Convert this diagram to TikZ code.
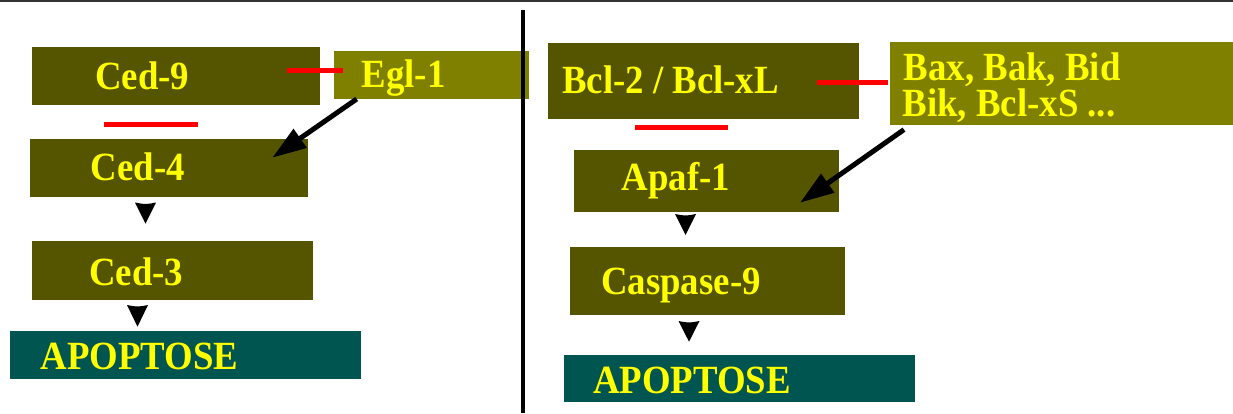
\documentclass[tikz,border=0pt]{standalone}
\usepackage{fontspec}
\usepackage{graphicx}
\setmainfont{Liberation Serif}
\usetikzlibrary{arrows.meta}
\definecolor{boxdark}{RGB}{85,85,0}
\definecolor{boxlight}{RGB}{128,128,0}
\definecolor{boxteal}{RGB}{0,85,80}
\definecolor{txtyellow}{RGB}{255,255,0}
\definecolor{inhred}{RGB}{255,0,0}
\newcommand\sqz[1]{\scalebox{0.92}[1]{#1}}
\begin{document}
\begin{tikzpicture}[x=1pt,y=-1pt,
  box/.style={fill=boxdark, draw=none, inner sep=0pt, outer sep=0pt, anchor=north west},
  lbl/.style={text=txtyellow, font=\bfseries\fontsize{40}{36}\selectfont, inner sep=0pt, anchor=base west},
  inhib/.style={draw=inhred, line width=5pt},
  act/.style={draw=black, line width=5pt, -{Triangle[length=34pt,width=22pt]}},
  tri/.style={fill=black}]
\useasboundingbox (0,0) rectangle (1233,413);
\fill[white] (0,0) rectangle (1233,413);
% top rule
\draw[line width=1.6pt, black!80] (0,0.8) -- (1233,0.8);

% ---- left panel boxes
\node[box, minimum width=288pt, minimum height=58pt] (ced9) at (32,47) {};
\node[box, fill=boxlight, minimum width=195pt, minimum height=48pt] (egl1) at (334,51) {};
\node[box, minimum width=278pt, minimum height=58pt] (ced4) at (30,139) {};
\node[box, minimum width=281pt, minimum height=59pt] (ced3) at (32,241) {};
\node[box, fill=boxteal, minimum width=351pt, minimum height=48pt] (apoL) at (10,331) {};

% ---- right panel boxes
\node[box, minimum width=311pt, minimum height=76pt] (bcl) at (548,43) {};
\node[box, fill=boxlight, minimum width=343pt, minimum height=83pt] (bax) at (890,42) {};
\node[box, minimum width=265pt, minimum height=62pt] (apaf) at (574,150) {};
\node[box, minimum width=275pt, minimum height=68pt] (casp) at (570,247) {};
\node[box, fill=boxteal, minimum width=351pt, minimum height=47pt] (apoR) at (564,355) {};

% divider
\draw[line width=3.6pt, black] (523,10) -- (523,413);

% ---- labels
\node[lbl] (ced9t) at (95,89.3) {\sqz{Ced-9}};
\node[lbl] (egl1t) at (361.5,87) {\sqz{Egl-1}};
\node[lbl] (ced4t) at (90.5,180) {\sqz{Ced-4}};
\node[lbl] (ced3t) at (89,285) {\sqz{Ced-3}};
\node[lbl] (apoLt) at (40.5,369) {\sqz{APOPTOSE}};
\node[lbl] (bclt) at (562,93.3) {\sqz{Bcl-2 / Bcl-xL}};
\node[lbl] (baxt1) at (903.5,80) {\sqz{Bax, Bak, Bid}};
\node[lbl] (baxt2) at (902.5,116) {\sqz{Bik, Bcl-xS ...}};
\node[lbl] (apaft) at (621.5,190) {\sqz{Apaf-1}};
\node[lbl] (caspt) at (601,294.3) {\sqz{Caspase-9}};
\node[lbl] (apoRt) at (593,393.3) {\sqz{APOPTOSE}};

% ---- inhibition bars
\draw[inhib] ([shift={(-33,-6)}]ced9.east) -- ([shift={(9,-5)}]egl1.west);
\draw[inhib] (104,124.3) -- (198,124.3);
\draw[inhib] ([shift={(-42,1.7)}]bcl.east) -- ([shift={(-2.3,-0.8)}]bax.west);
\draw[inhib] (635,127.3) -- (727.7,127.3);

% ---- activation arrows
\draw[act] ([xshift=22.7pt]egl1.south west) -- ([shift={(-35.7,18.7)}]ced4.north east);
\draw[act] ([shift={(14,4.6)}]bax.south west) -- ([shift={(-39,52.7)}]apaf.north east);

% ---- small down triangles
\fill[tri] (135,202.5) .. controls (145.5,204.5) .. (156,202.5) -- (145.5,223.5) -- cycle;
\fill[tri] (127,305) .. controls (137.5,307) .. (148,305) -- (137.5,326.7) -- cycle;
\fill[tri] (675,214) .. controls (685.5,216) .. (696,214) -- (685.5,235) -- cycle;
\fill[tri] (678.5,321) .. controls (689,323) .. (699.5,321) -- (689,341.7) -- cycle;
\end{tikzpicture}
\end{document}
